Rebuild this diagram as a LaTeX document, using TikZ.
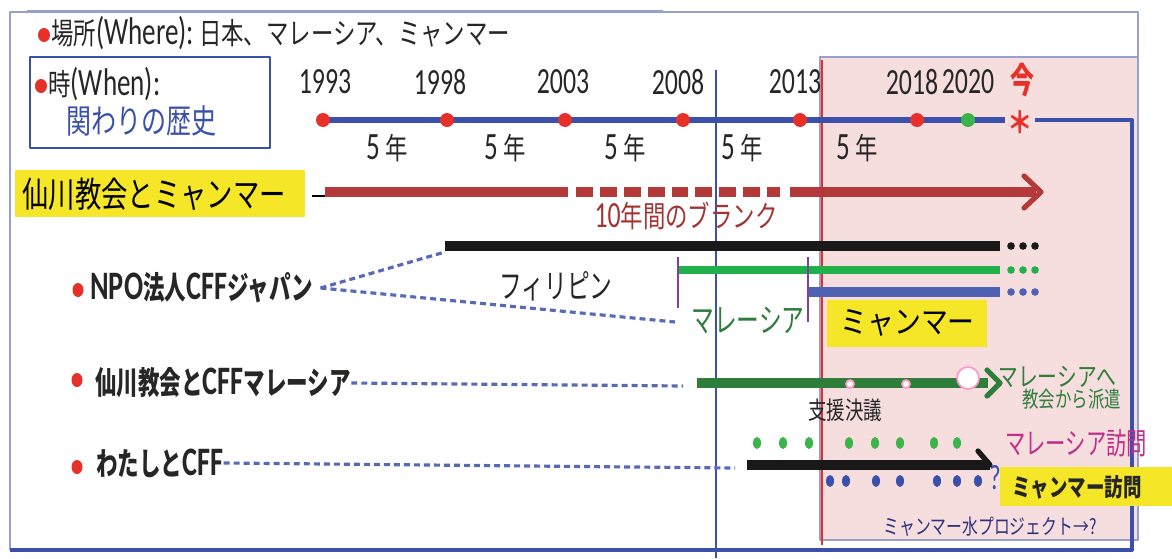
\documentclass[tikz,border=0pt]{standalone}
\usepackage{fontspec}
\newfontfamily\jp[FakeStretch=0.85]{Noto Sans CJK JP}
\newfontfamily\jpm[FakeStretch=0.75]{Noto Sans CJK JP}
\newfontfamily\jpn[FakeStretch=0.68]{Noto Sans CJK JP}
\newfontfamily\lat[FakeStretch=0.7]{Carlito}
\definecolor{tlblue}{RGB}{58,80,170}
\definecolor{dotred}{RGB}{232,48,42}
\definecolor{dotgreen}{RGB}{60,180,74}
\definecolor{barred}{RGB}{180,58,58}
\definecolor{bargreen}{RGB}{34,176,74}
\definecolor{darkgreen}{RGB}{46,125,58}
\definecolor{tickpurple}{RGB}{128,64,160}
\definecolor{hlyellow}{RGB}{245,230,40}
\definecolor{pinkbg}{RGB}{246,222,222}
\definecolor{framegray}{RGB}{150,160,200}
\definecolor{magtext}{RGB}{192,48,138}
\definecolor{navytext}{RGB}{48,48,128}
\begin{document}
\begin{tikzpicture}[x=0.02cm,y=-0.02cm,line
				join=round,inner sep=0pt,
				yearlbl/.style={font=\lat\fontsize{21}{21}\selectfont,text=black!85},
				spanlbl/.style={font=\jpm\fontsize{17}{17}\selectfont,text=black!85},
				bar/.style={line width=5.7pt,line cap=butt},
				link/.style={draw=tlblue!85,line width=1.8pt,dash pattern=on 3.4pt off 2.3pt},
				bullet/.style={fill=dotred}]
				\def\ty{120}
				\def\hw{3.8}
				\useasboundingbox (0,0) rectangle (1172,558);
				% frame and period box
				\fill[pinkbg,draw=framegray,line width=0.6pt] (820,57) rectangle (1138,540);
				\draw[framegray,line width=0.6pt] (10,550)--(10,12)--(1138,12)--(1138,57);
				\draw[framegray,line width=1.6pt] (27,11)--(663,11);
				\draw[tlblue,line width=1.2pt] (716,70)--(716,558);
				\draw[dotred,line width=1pt] (822,60)--(822,545);
				\draw[tlblue,line width=2.2pt] (10,550)--(1132,550)--(1132,\ty)--(1035,\ty);
				% heading
				\fill[bullet] (44,35) ellipse (6 and 7);
				\node[anchor=west,font=\jpm\fontsize{17}{17}\selectfont,text=black!85] (where) at (51,33)
				{場所{\lat\fontsize{22}{22}\selectfont(Where):}\ 日本、マレーシア、ミャンマー};
				\draw[tlblue,line width=0.8pt] (30,57) rectangle (270,148);
				\fill[bullet] (41,86) ellipse (6 and 7);
				\node[anchor=west,font=\jpm\fontsize{17}{17}\selectfont,text=black!85] (when) at (48,84)
				{時{\lat\fontsize{22}{22}\selectfont(When):}};
				\node[anchor=west,font=\jpm\fontsize{19}{19}\selectfont,text=tlblue] (history) at (66,121) {関わりの歴史};
				% time line
				\draw[tlblue,line width=3.4pt] (323,\ty)--(1005,\ty);
				\foreach \x in {323,447,565,683,800,917}
				\fill[dotred] (\x,\ty) circle (7);
				\fill[dotgreen] (968,\ty) circle (7);
				\foreach \x/\yr in {325/1993,440/1998,563/2003,678/2008,795/2013,912/2018,968/2020}
				\node[yearlbl] (y\yr) at (\x,82) {\yr};
				\node[font=\jpn\bfseries\fontsize{20}{20}\selectfont,text=dotred] (now) at (1022,80) {今};
				\node[font=\jp\bfseries\fontsize{17}{17}\selectfont,text=dotred] (star) at (1020,122) {＊};
				\foreach \x in {387,505,625,742,857}
				\node[spanlbl] at (\x,148) {{\lat\fontsize{22}{22}\selectfont 5}\,年};
				% church and myanmar
				\fill[hlyellow] (15,170) rectangle (305,217);
				\node[anchor=west,font=\jpm\fontsize{20}{20}\selectfont] (senkawa) at (22,194) {仙川教会とミャンマー};
				\draw[black,line width=1.5pt] (312,196)--(325,196);
				\draw[barred,bar] (325,192)--(568,192);
				\draw[barred,bar,dash pattern=on 9.6pt off 4pt] (576,192)--(780,192);
				\draw[barred,bar] (790,192)--(1036,192);
				\draw[barred,line width=3pt,line cap=round] (1024,176)--(1041,192)--(1024,208);
				\node[font=\jpm\fontsize{17}{17}\selectfont,text=barred!90!black] (blank) at (686,216) {{\lat\fontsize{21}{21}\selectfont 10}年間のブランク};
				% npo cff japan
				\fill[bullet] (78,290) ellipse (5.5 and 7);
				\node[anchor=west,font=\jpn\bfseries\fontsize{18}{18}\selectfont,text=black!85] (npo) at (90,288)
				{{\lat\fontsize{23}{23}\selectfont NPO}法人{\lat\fontsize{23}{23}\selectfont CFF}ジャパン};
				\draw[black!90,bar] (445,246)--(1000,246);
				\draw[bargreen,line width=4.6pt,line cap=butt] (678,270)--(1000,270);
				\draw[tlblue!90,line width=5.2pt,line cap=butt] (808,292)--(1000,292);
				\foreach \x in {1011,1023,1035}{
					\fill[black!90] (\x,246) circle (\hw);
					\fill[bargreen] (\x,270) circle (\hw);
					\fill[tlblue!90] (\x,292) circle (\hw);
				}
				\draw[tickpurple,line width=1.5pt] (678,257)--(678,308) (808,257)--(808,322);
				\coordinate (phil) at (445,252);
				\coordinate (mal) at (675,322);
				\draw[link] ([xshift=4pt]npo.east)--(phil) ([xshift=4pt]npo.east)--(mal);
				\node[font=\jpn\fontsize{19}{19}\selectfont,text=black!85] (philippines) at (556,286) {フィリピン};
				\node[font=\jpn\fontsize{19}{19}\selectfont,text=darkgreen] (malaysia) at (748,320) {マレーシア};
				\fill[hlyellow] (827,300) rectangle (987,347);
				\node[anchor=west,font=\jp\fontsize{18}{18}\selectfont] (myanmar) at (840,323) {ミャンマー};
				% church and cff malaysia
				\fill[bullet] (77,380) ellipse (5.5 and 7);
				\node[anchor=west,font=\jpn\bfseries\fontsize{18}{18}\selectfont,text=black!85] (cffmy) at (95,383)
				{仙川教会と{\lat\fontsize{23}{23}\selectfont CFF}マレーシア};
				\coordinate (cffstart) at (683,386);
				\draw[link] (cffmy.east)--(cffstart);
				\draw[darkgreen,bar] (697,383)--(988,383);
				\draw[darkgreen,line width=3pt,line cap=round] (987,370)--(1000,383)--(987,396);
				\draw[pink!80!magenta,fill=white,line width=1pt] (850,384) circle (4) (906,384) circle (4) (968,378) circle (11);
				\node[anchor=west,font=\jpm\fontsize{15}{15}\selectfont,text=darkgreen] (tomy) at (998,377) {マレーシアへ};
				\node[anchor=west,font=\jpm\fontsize{12.5}{12.5}\selectfont,text=darkgreen] (dispatch) at (1022,399) {教会から派遣};
				\node[font=\jpm\fontsize{14}{14}\selectfont,text=black!85] (resolve) at (845,410) {支援決議};
				% me and cff
				\fill[bullet] (77,467) ellipse (5.5 and 7);
				\node[anchor=west,font=\jpn\bfseries\fontsize{18}{18}\selectfont,text=black!85] (me) at (96,463)
				{わたしと{\lat\fontsize{23}{23}\selectfont CFF}};
				\coordinate (mestart) at (735,468);
				\draw[link] (me.east)--(mestart);
				\foreach \x in {757,783,809,849,875,900,934,957}
				\fill[dotgreen] (\x,443) ellipse (4 and 6);
				\draw[black!90,bar] (747,465)--(990,465);
				\draw[black!90,line width=3pt,line cap=round] (990,465)--(978,451);
				\foreach \x in {830,846,876,900,937,957,978}
				\fill[tlblue] (\x,481) ellipse (4 and 6);
				\node[font=\lat\fontsize{20}{20}\selectfont,text=tlblue] (qmark) at (995,478) {?};
				\node[anchor=west,font=\jpn\fontsize{17}{17}\selectfont,text=magtext] (myvisit) at (1005,443) {マレーシア訪問};
				\fill[hlyellow] (1000,467) rectangle (1172,506);
				\node[anchor=west,font=\jpm\bfseries\fontsize{14}{14}\selectfont,text=black!85] (mmvisit) at (1012,487) {ミャンマー訪問};
				\node[font=\jpm\fontsize{12}{12}\selectfont,text=navytext] (water) at (990,527) {ミャンマー水プロジェクト→?};
			\end{tikzpicture}
\end{document}
